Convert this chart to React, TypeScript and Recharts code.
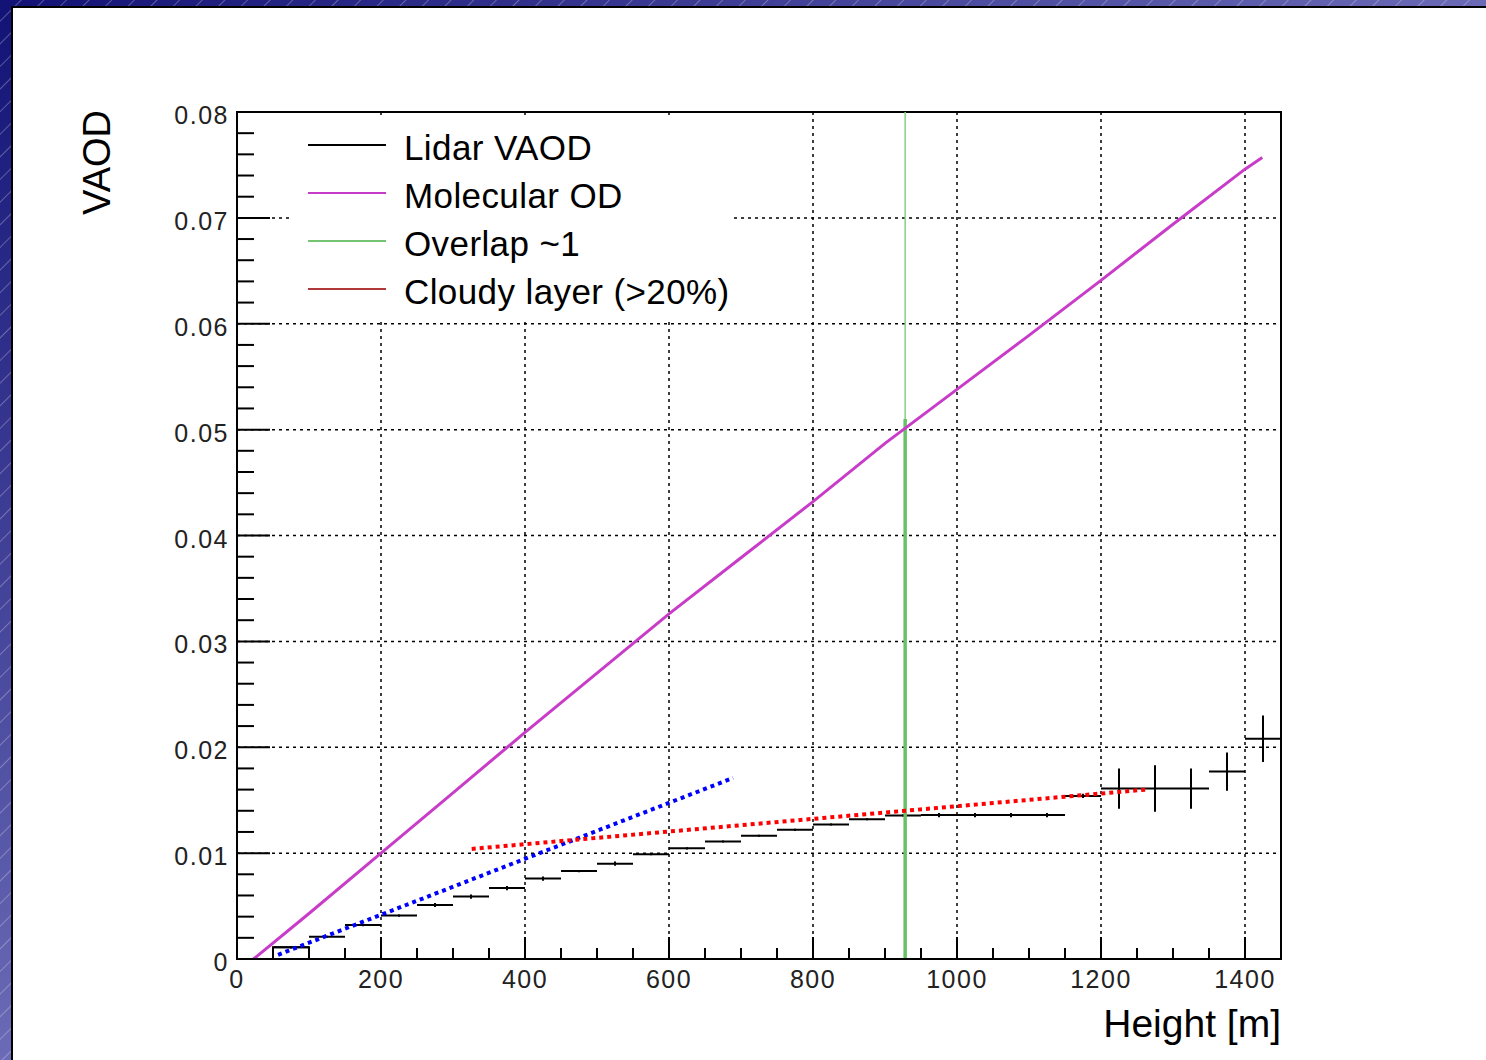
import React from 'react'
import {
  ComposedChart,
  Line,
  Scatter,
  ErrorBar,
  XAxis,
  YAxis,
  CartesianGrid,
  ReferenceArea,
  Legend,
  Label,
} from 'recharts'

// lidar VAOD histogram, 50 m bins (low edge, value, stat. error)
const binWidth = 50
const binLow = [
  50, 100, 150, 200, 250, 300, 350, 400, 450, 500, 550, 600, 650, 700,
  750, 800, 850, 900, 950, 1000, 1050, 1100, 1150, 1200, 1250, 1300, 1350, 1400,
]
const lidarVaod = [
  0.0011, 0.0021, 0.0032, 0.0041, 0.0051, 0.0059, 0.0067, 0.0076, 0.0083, 0.009,
  0.0099, 0.01045, 0.0111, 0.01164, 0.0122, 0.0127, 0.0132, 0.01355, 0.0136, 0.0136,
  0.0136, 0.0136, 0.0154, 0.0161, 0.0161, 0.0161, 0.0177, 0.0208,
]
const lidarErr = [
  0.0001, 0.0001, 0.0001, 0.0001, 0.0002, 0.0002, 0.0002, 0.0002, 0.0001, 0.0002,
  0.0001, 0.0001, 0.0001, 0.0001, 0.0001, 0.0001, 0.0001, 0.0001, 0.0002, 0.0002,
  0.0002, 0.0002, 0.0002, 0.0019, 0.0022, 0.0019, 0.0018, 0.0022,
]

// molecular optical depth
const molHeight = [23, 100, 200, 300, 400, 500, 600, 700, 800, 900, 1000, 1100, 1200, 1300, 1400, 1424]
const molOd = [
  0, 0.0043, 0.01, 0.0157, 0.0214, 0.027, 0.0326, 0.0379, 0.0432, 0.0487, 0.0538,
  0.0589, 0.0641, 0.0694, 0.0746, 0.0757,
]

// full overlap height, and top of the fit range marker
const overlapHeight = 928
const overlapMarkTop = 0.051

// linear fits
const blueFitX = [57, 689]
const blueFitY = [0.0004, 0.0171]
const redFitX = [326, 1262]
const redFitY = [0.0104, 0.016]

const xMajor = [0, 200, 400, 600, 800, 1000, 1200, 1400]
const yMajor = [0, 0.01, 0.02, 0.03, 0.04, 0.05, 0.06, 0.07, 0.08]
const xDomain = [0, 1450]
const yDomain = [0, 0.08]

const legendNames = ['Lidar VAOD', 'Molecular OD', 'Overlap ~1', 'Cloudy layer (>20%)']
const legendColors = ['#000000', '#c63cc8', '#74c474', '#b03838']

const FONT = '"Liberation Sans", Arial, Helvetica, sans-serif'
const GAP = 9

const subdivide = (majors: number[], n: number, max: number) => {
  const step = (majors[1] - majors[0]) / n
  const out: number[] = []
  for (let i = 0; majors[0] + i * step <= max + 1e-9; i++) out.push(+(majors[0] + i * step).toFixed(6))
  return out
}
const xTicks = subdivide(xMajor, 4, xDomain[1])
const yTicks = subdivide(yMajor, 5, yDomain[1])
const isMajor = (list: number[], v: number) => list.some((m) => Math.abs(m - v) < 1e-7)

const lidarPoints = binLow.map((lo, i) => ({
  x: lo + binWidth / 2,
  y: lidarVaod[i],
  ex: binWidth / 2,
  ey: lidarErr[i],
}))
const firstBinEdge = [
  { x: binLow[0], y: 0 },
  { x: binLow[0], y: lidarVaod[0] },
  { x: binLow[0] + binWidth, y: lidarVaod[0] },
  { x: binLow[0] + binWidth, y: 0 },
]
const molPoints = molHeight.map((h, i) => ({ x: h, y: molOd[i] }))
const overlapFull = [
  { x: overlapHeight, y: yDomain[0] },
  { x: overlapHeight, y: yDomain[1] },
]
const overlapMark = [
  { x: overlapHeight, y: yDomain[0] },
  { x: overlapHeight, y: overlapMarkTop },
]
const blueFit = blueFitX.map((x, i) => ({ x, y: blueFitY[i] }))
const redFit = redFitX.map((x, i) => ({ x, y: redFitY[i] }))

const XTick = (props: any) => {
  const { x, y, payload } = props
  const major = isMajor(xMajor, payload.value)
  const axisY = y - GAP
  return (
    <g>
      <line x1={x} x2={x} y1={axisY} y2={axisY - (major ? 22 : 11)} stroke="#000" strokeWidth={2} />
      {major && (
        <text x={x} y={y} dy={20} textAnchor="middle" fontFamily={FONT} fontSize={25} letterSpacing={1.5} fill="#222">
          {payload.value}
        </text>
      )}
    </g>
  )
}

const YTick = (props: any) => {
  const { x, y, payload } = props
  const major = isMajor(yMajor, payload.value)
  const axisX = x + GAP
  return (
    <g>
      <line x1={axisX} x2={axisX + (major ? 33 : 17)} y1={y} y2={y} stroke="#000" strokeWidth={2} />
      {major && (
        <text x={x + 1} y={y} dy={12} textAnchor="end" fontFamily={FONT} fontSize={25} letterSpacing={1.5} fill="#222">
          {payload.value === 0 ? '0' : payload.value.toFixed(2)}
        </text>
      )}
    </g>
  )
}

const YTitle = (props: any) => {
  const { x, y, width } = props.viewBox
  const tx = x + width - 127
  return (
    <text x={tx} y={y - 2} transform={`rotate(-90 ${tx} ${y - 2})`} textAnchor="end" fontFamily={FONT} fontSize={38} fill="#000">
      VAOD
    </text>
  )
}

const XTitle = (props: any) => {
  const { x, y, width } = props.viewBox
  return (
    <text x={x + width} y={y + 78} textAnchor="end" fontFamily={FONT} fontSize={39} fill="#000">
      Height [m]
    </text>
  )
}

const LegendBox = () => (
  <div style={{ background: '#fff', width: '100%', height: '100%', paddingTop: 6, boxSizing: 'border-box' }}>
    {legendNames.map((name, i) => (
      <div key={name} style={{ display: 'flex', alignItems: 'center', height: 48 }}>
        <div style={{ marginLeft: 15, width: 78, height: 2, background: legendColors[i] }} />
        <span
          style={{
            marginLeft: 18,
            paddingTop: 5,
            fontFamily: FONT,
            fontSize: 35,
            letterSpacing: 0.4,
            color: '#000',
            whiteSpace: 'nowrap',
          }}
        >
          {name}
        </span>
      </div>
    ))}
  </div>
)

const noDot = () => <g />

export default function App() {
  return (
    <div
      style={{
        position: 'absolute',
        left: 0,
        top: 0,
        width: 1486,
        height: 1060,
        overflow: 'hidden',
        background:
          'repeating-linear-gradient(135deg, rgba(255,255,255,0) 0px, rgba(255,255,255,0) 14px, rgba(255,255,255,0.28) 15px, rgba(255,255,255,0) 16px), linear-gradient(to bottom right, #121276, #6a6ab6 50%, #9090d0)',
      }}
    >
      <div
        style={{
          position: 'absolute',
          left: 11,
          top: 6,
          width: 1475,
          height: 1054,
          background: '#fff',
          borderLeft: '2px solid #000',
          borderTop: '2px solid #000',
          boxSizing: 'border-box',
        }}
      />
      <div style={{ position: 'absolute', left: 0, top: 0 }}>
        <ComposedChart width={1486} height={1060} margin={{ top: 112, right: 205, bottom: 61, left: 177 }}>
          <CartesianGrid
            horizontalValues={yMajor}
            verticalValues={xMajor}
            stroke="#000"
            strokeWidth={1.5}
            strokeDasharray="3 4"
          />
          <XAxis
            type="number"
            dataKey="x"
            domain={xDomain}
            ticks={xTicks}
            interval={0}
            height={40}
            tickSize={0}
            tickMargin={GAP}
            tickLine={false}
            tick={XTick}
            axisLine={{ stroke: '#000', strokeWidth: 2 }}
            allowDataOverflow
            label={<Label content={XTitle} />}
          />
          <YAxis
            type="number"
            domain={yDomain}
            ticks={yTicks}
            interval={0}
            width={60}
            tickSize={0}
            tickMargin={GAP}
            tickLine={false}
            tick={YTick}
            axisLine={{ stroke: '#000', strokeWidth: 2 }}
            allowDataOverflow
            label={<Label content={YTitle} />}
          />
          <Scatter name="Lidar VAOD" data={lidarPoints} dataKey="y" shape={noDot} isAnimationActive={false}>
            <ErrorBar dataKey="ex" direction="x" width={0} stroke="#000" strokeWidth={2} isAnimationActive={false} />
            <ErrorBar dataKey="ey" direction="y" width={0} stroke="#000" strokeWidth={2} isAnimationActive={false} />
          </Scatter>
          <Line data={firstBinEdge} dataKey="y" type="linear" stroke="#000" strokeWidth={2} dot={false} activeDot={false} isAnimationActive={false} legendType="none" />
          <Line data={overlapFull} dataKey="y" type="linear" stroke="#86cf86" strokeWidth={1.5} dot={false} activeDot={false} isAnimationActive={false} legendType="none" />
          <Line data={overlapMark} dataKey="y" type="linear" stroke="#66c266" strokeWidth={3.5} dot={false} activeDot={false} isAnimationActive={false} legendType="none" />
          <Line data={molPoints} dataKey="y" type="linear" stroke="#c83cc8" strokeWidth={3} dot={false} activeDot={false} isAnimationActive={false} legendType="none" />
          <Line data={blueFit} dataKey="y" type="linear" stroke="#0000ff" strokeWidth={4} strokeDasharray="4 4" dot={false} activeDot={false} isAnimationActive={false} legendType="none" />
          <Line data={redFit} dataKey="y" type="linear" stroke="#ff0000" strokeWidth={4} strokeDasharray="4 4" dot={false} activeDot={false} isAnimationActive={false} legendType="none" />
          <ReferenceArea x1={xDomain[0]} x2={xDomain[1]} y1={yDomain[0]} y2={yDomain[1]} fill="none" fillOpacity={0} stroke="#000" strokeWidth={2} />
          <Legend
            layout="vertical"
            align="center"
            verticalAlign="middle"
            content={LegendBox}
            wrapperStyle={{ left: 293, top: 115, width: 440, height: 204 }}
          />
        </ComposedChart>
      </div>
    </div>
  )
}
